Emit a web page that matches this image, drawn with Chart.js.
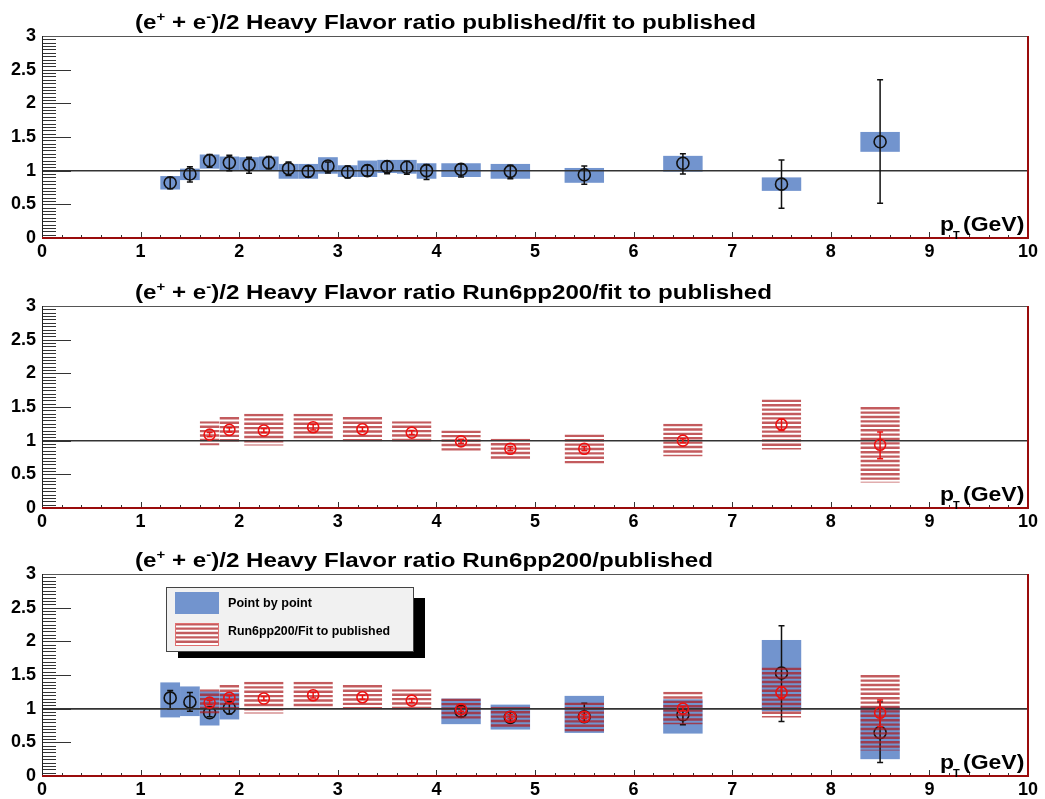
<!DOCTYPE html>
<html>
<head>
<meta charset="utf-8">
<script src="https://cdn.jsdelivr.net/npm/chart.js@4/dist/chart.umd.min.js"></script>
<style>
  html, body { margin: 0; padding: 0; background: #fff; overflow: hidden; }
  body { width: 1045px; height: 799px; position: relative; }
  canvas { position: absolute; left: 0; }
</style>
</head>
<body>
<canvas id="p1" width="1045" height="266" style="top:0px"></canvas>
<canvas id="p2" width="1045" height="266" style="top:270px"></canvas>
<canvas id="p3" width="1045" height="266" style="top:538px"></canvas>
<script>
// published / fit to published (point by point, blue boxes)
var pubX     = [1.3, 1.5, 1.7, 1.9, 2.1, 2.3, 2.5, 2.7, 2.9, 3.1, 3.3, 3.5, 3.7, 3.9, 4.25, 4.75, 5.5, 6.5, 7.5, 8.5];
var pubHalfW = [0.1, 0.1, 0.1, 0.1, 0.1, 0.1, 0.1, 0.1, 0.1, 0.1, 0.1, 0.1, 0.1, 0.1, 0.2, 0.2, 0.2, 0.2, 0.2, 0.2];
var pubY     = [0.82, 0.95, 1.15, 1.12, 1.09, 1.12, 1.03, 0.99, 1.07, 0.98, 1.00, 1.06, 1.05, 1.00, 1.02, 0.99, 0.94, 1.11, 0.80, 1.43];
var pubBoxLo = [0.72, 0.86, 1.03, 1.00, 1.00, 1.00, 0.88, 0.88, 0.955, 0.906, 0.906, 0.965, 0.955, 0.88, 0.906, 0.88, 0.82, 0.985, 0.70, 1.28];
var pubBoxHi = [0.92, 1.03, 1.24, 1.21, 1.20, 1.21, 1.10, 1.10, 1.20, 1.08, 1.15, 1.16, 1.16, 1.11, 1.11, 1.10, 1.04, 1.22, 0.90, 1.575];
var pubErrLo = [0.73, 0.83, 1.05, 1.00, 0.96, 1.03, 0.93, 0.906, 0.965, 0.89, 0.92, 0.955, 0.945, 0.87, 0.906, 0.88, 0.80, 0.95, 0.44, 0.515];
var pubErrHi = [0.90, 1.06, 1.24, 1.23, 1.20, 1.21, 1.13, 1.07, 1.13, 1.07, 1.08, 1.14, 1.14, 1.09, 1.10, 1.08, 1.07, 1.25, 1.16, 2.35];

// Run6pp200 / fit to published (red hatched boxes)
var runX     = [1.7, 1.9, 2.25, 2.75, 3.25, 3.75, 4.25, 4.75, 5.5, 6.5, 7.5, 8.5];
var runHalfW = [0.1, 0.1, 0.2, 0.2, 0.2, 0.2, 0.2, 0.2, 0.2, 0.2, 0.2, 0.2];
var runY     = [1.09, 1.16, 1.15, 1.20, 1.17, 1.12, 0.99, 0.88, 0.88, 1.00, 1.24, 0.94];
var runBoxLo = [0.93, 0.98, 0.93, 0.995, 0.99, 0.98, 0.83, 0.72, 0.66, 0.77, 0.87, 0.38];
var runBoxHi = [1.29, 1.35, 1.40, 1.40, 1.35, 1.29, 1.15, 1.03, 1.09, 1.25, 1.61, 1.50];
var runErrLo = [1.06, 1.13, 1.12, 1.16, 1.14, 1.09, 0.96, 0.85, 0.85, 0.97, 1.15, 0.73];
var runErrHi = [1.12, 1.19, 1.18, 1.24, 1.20, 1.15, 1.02, 0.91, 0.91, 1.03, 1.32, 1.13];

// Run6pp200 / published (point by point)
var ppX     = [1.3, 1.5, 1.7, 1.9, 4.25, 4.75, 5.5, 6.5, 7.5, 8.5];
var ppHalfW = [0.1, 0.1, 0.1, 0.1, 0.2, 0.2, 0.2, 0.2, 0.2, 0.2];
var ppY     = [1.16, 1.10, 0.94, 1.01, 0.96, 0.87, 0.88, 0.91, 1.53, 0.645];
var ppBoxLo = [0.87, 0.89, 0.75, 0.84, 0.77, 0.69, 0.64, 0.63, 0.96, 0.25];
var ppBoxHi = [1.39, 1.33, 1.26, 1.24, 1.15, 1.06, 1.19, 1.14, 2.02, 1.03];
var ppErrLo = [1.00, 0.96, 0.88, 0.92, 0.88, 0.80, 0.81, 0.76, 0.81, 0.20];
var ppErrHi = [1.27, 1.24, 1.02, 1.10, 1.05, 0.95, 1.08, 1.00, 2.23, 1.10];

var titles = ['published/fit to published', 'Run6pp200/fit to published', 'Run6pp200/published'];
var legendLabels = ['Point by point', 'Run6pp200/Fit to published'];

var FONT = '"Liberation Sans", Arial, Helvetica, sans-serif';
var BLUE = 'rgb(114,148,206)';
var HATCH = 'rgba(172,28,32,0.72)';
var STRETCH = 1.15;   // ROOT's Helvetica renders wider than Liberation

function makeSet(xs, ys, lo, hi, hw, elo, ehi, kind) {
    return {
        data: xs.map(function (x, i) { return { x: x, y: ys[i] }; }),
        boxLo: lo, boxHi: hi, halfW: hw, errLo: elo, errHi: ehi, kind: kind,
        showLine: false,
        pointStyle: 'circle',
        pointRadius: kind === 'hatch' ? 5.5 : 6,
        pointBackgroundColor: 'rgba(0,0,0,0)',
        pointBorderColor: kind === 'hatch' ? '#ee1111' : '#111',
        pointBorderWidth: 1.6,
        order: kind === 'hatch' ? 0 : 1
    };
}

function hatchRect(ctx, x0, y0, x1, y1) {
    ctx.save();
    ctx.beginPath();
    ctx.rect(x0, y0, x1 - x0, y1 - y0);
    ctx.clip();
    ctx.strokeStyle = HATCH;
    ctx.lineWidth = 2.4;
    for (var y = y0 + 1.2; y < y1 + 2; y += 4.4) {
        ctx.beginPath();
        ctx.moveTo(x0, y);
        ctx.lineTo(x1, y);
        ctx.stroke();
    }
    ctx.restore();
}

// draw text stretched horizontally, returns drawn width
function wideText(ctx, text, x, y, sx) {
    ctx.save();
    ctx.translate(x, y);
    ctx.scale(sx, 1);
    ctx.fillText(text, 0, 0);
    ctx.restore();
    return ctx.measureText(text).width * sx;
}

var rootStyle = {
    id: 'rootStyle',
    beforeDatasetDraw: function (chart, args) {
        var ds = chart.data.datasets[args.index];
        var ctx = chart.ctx, xs = chart.scales.x, ys = chart.scales.y;
        ds.data.forEach(function (p, i) {
            var x0 = xs.getPixelForValue(p.x - ds.halfW[i]);
            var x1 = xs.getPixelForValue(p.x + ds.halfW[i]);
            var yT = ys.getPixelForValue(ds.boxHi[i]);
            var yB = ys.getPixelForValue(ds.boxLo[i]);
            if (ds.kind === 'hatch') {
                hatchRect(ctx, x0, yT, x1, yB);
            } else {
                ctx.fillStyle = BLUE;
                ctx.fillRect(x0, yT, x1 - x0, yB - yT);
            }
        });
        // unity line
        ctx.save();
        ctx.strokeStyle = '#333';
        ctx.lineWidth = 1.5;
        ctx.beginPath();
        ctx.moveTo(xs.getPixelForValue(0), ys.getPixelForValue(1));
        ctx.lineTo(xs.getPixelForValue(10), ys.getPixelForValue(1));
        ctx.stroke();
        // error bars
        ctx.strokeStyle = ds.kind === 'hatch' ? '#ee1111' : '#111';
        ctx.lineWidth = 1.5;
        ds.data.forEach(function (p, i) {
            var x = xs.getPixelForValue(p.x);
            var yT = ys.getPixelForValue(ds.errHi[i]);
            var yB = ys.getPixelForValue(ds.errLo[i]);
            ctx.beginPath();
            ctx.moveTo(x, yT); ctx.lineTo(x, yB);
            ctx.moveTo(x - 3, yT); ctx.lineTo(x + 3, yT);
            ctx.moveTo(x - 3, yB); ctx.lineTo(x + 3, yB);
            ctx.stroke();
        });
        ctx.restore();
    },
    afterDraw: function (chart, args, opts) {
        var ctx = chart.ctx, xs = chart.scales.x, ys = chart.scales.y;
        var a = chart.chartArea;
        ctx.save();
        // ticks
        ctx.strokeStyle = '#333';
        ctx.lineWidth = 1;
        for (var i = 0; i <= 60; i++) {
            var y = Math.round(ys.getPixelForValue(i * 0.05)) + 0.5;
            var len = i % 10 === 0 ? 29 : 14;
            ctx.beginPath();
            ctx.moveTo(a.left, y); ctx.lineTo(a.left + len, y);
            ctx.stroke();
        }
        for (var j = 0; j <= 50; j++) {
            var x = Math.round(xs.getPixelForValue(j * 0.2)) + 0.5;
            var l2 = j % 5 === 0 ? 6 : 3;
            ctx.beginPath();
            ctx.moveTo(x, a.bottom); ctx.lineTo(x, a.bottom - l2);
            ctx.stroke();
        }
        // frame
        ctx.strokeStyle = '#555';
        ctx.beginPath();
        ctx.moveTo(a.left, a.top + 0.5); ctx.lineTo(a.right, a.top + 0.5);
        ctx.stroke();
        ctx.strokeStyle = '#222';
        ctx.beginPath();
        ctx.moveTo(a.left + 0.5, a.top); ctx.lineTo(a.left + 0.5, a.bottom);
        ctx.stroke();
        ctx.strokeStyle = '#9a0c0c';
        ctx.lineWidth = 2;
        ctx.beginPath();
        ctx.moveTo(a.left, a.bottom); ctx.lineTo(a.right + 1, a.bottom);
        ctx.moveTo(a.right, a.top); ctx.lineTo(a.right, a.bottom);
        ctx.stroke();

        // title with superscripts
        ctx.fillStyle = '#000';
        ctx.textBaseline = 'alphabetic';
        ctx.textAlign = 'left';
        var big = 'bold 21px ' + FONT, small = 'bold 13px ' + FONT;
        var tx = 135, ty = a.top - 7;
        var parts = [['(e', big, 0], ['+', small, -8], [' + e', big, 0], ['-', small, -8], [')/2 Heavy Flavor ratio ' + opts.title, big, 0]];
        parts.forEach(function (pt) {
            ctx.font = pt[1];
            tx += wideText(ctx, pt[0], tx, ty + pt[2], STRETCH);
        });

        // axis title p_T (GeV)
        ctx.font = 'bold 20px ' + FONT;
        wideText(ctx, 'p', 940, a.bottom - 7, STRETCH);
        ctx.font = 'bold 11px ' + FONT;
        wideText(ctx, 'T', 953, a.bottom + 1, 1);
        ctx.font = 'bold 20px ' + FONT;
        wideText(ctx, '(GeV)', 963, a.bottom - 7, STRETCH);

        // legend (bottom panel only)
        if (opts.legend) {
            var lx = 166, ly = 49, lw = 247, lh = 64;
            ctx.fillStyle = '#000';
            ctx.fillRect(lx + 12, ly + 11, lw, lh - 4);
            ctx.fillStyle = '#f1f1f1';
            ctx.fillRect(lx, ly, lw, lh);
            ctx.strokeStyle = '#444';
            ctx.lineWidth = 1;
            ctx.strokeRect(lx + 0.5, ly + 0.5, lw, lh);
            ctx.fillStyle = BLUE;
            ctx.fillRect(175, 54, 44, 22);
            ctx.fillStyle = '#fff';
            ctx.fillRect(175, 85, 44, 23);
            hatchRect(ctx, 175, 85, 219, 108);
            ctx.strokeStyle = '#e07070';
            ctx.strokeRect(175.5, 85.5, 43, 22);
            ctx.fillStyle = '#000';
            ctx.font = 'bold 12px ' + FONT;
            wideText(ctx, legendLabels[0], 228, 69, 1.05);
            wideText(ctx, legendLabels[1], 228, 97, 1.03);
        }
        ctx.restore();
    }
};

function makeChart(id, datasets, title, legend) {
    return new Chart(document.getElementById(id), {
        type: 'scatter',
        data: { datasets: datasets },
        plugins: [rootStyle],
        options: {
            responsive: false,
            animation: false,
            devicePixelRatio: 1,
            layout: { padding: { top: 36, right: 17, left: 0, bottom: 0 } },
            plugins: {
                legend: { display: false },
                tooltip: { enabled: false },
                rootStyle: { title: title, legend: legend }
            },
            scales: {
                x: {
                    type: 'linear', min: 0, max: 10,
                    grid: { display: false, drawTicks: false },
                    border: { display: false },
                    ticks: { stepSize: 1, color: '#000', padding: 3, maxRotation: 0, autoSkip: false,
                             font: { family: FONT, size: 18, weight: 'bold' } },
                    afterFit: function (s) { s.height = 28; }
                },
                y: {
                    type: 'linear', min: 0, max: 3,
                    grid: { display: false, drawTicks: false },
                    border: { display: false },
                    ticks: { stepSize: 0.5, color: '#000', padding: 6,
                             font: { family: FONT, size: 18, weight: 'bold' },
                             callback: function (v) { return String(Math.round(v * 10) / 10); } },
                    afterFit: function (s) { s.width = 42; }
                }
            }
        }
    });
}

makeChart('p1', [makeSet(pubX, pubY, pubBoxLo, pubBoxHi, pubHalfW, pubErrLo, pubErrHi, 'solid')], titles[0], false);
makeChart('p2', [makeSet(runX, runY, runBoxLo, runBoxHi, runHalfW, runErrLo, runErrHi, 'hatch')], titles[1], false);
makeChart('p3', [
    makeSet(ppX, ppY, ppBoxLo, ppBoxHi, ppHalfW, ppErrLo, ppErrHi, 'solid'),
    makeSet(runX, runY, runBoxLo, runBoxHi, runHalfW, runErrLo, runErrHi, 'hatch')
], titles[2], true);
</script>
</body>
</html>
